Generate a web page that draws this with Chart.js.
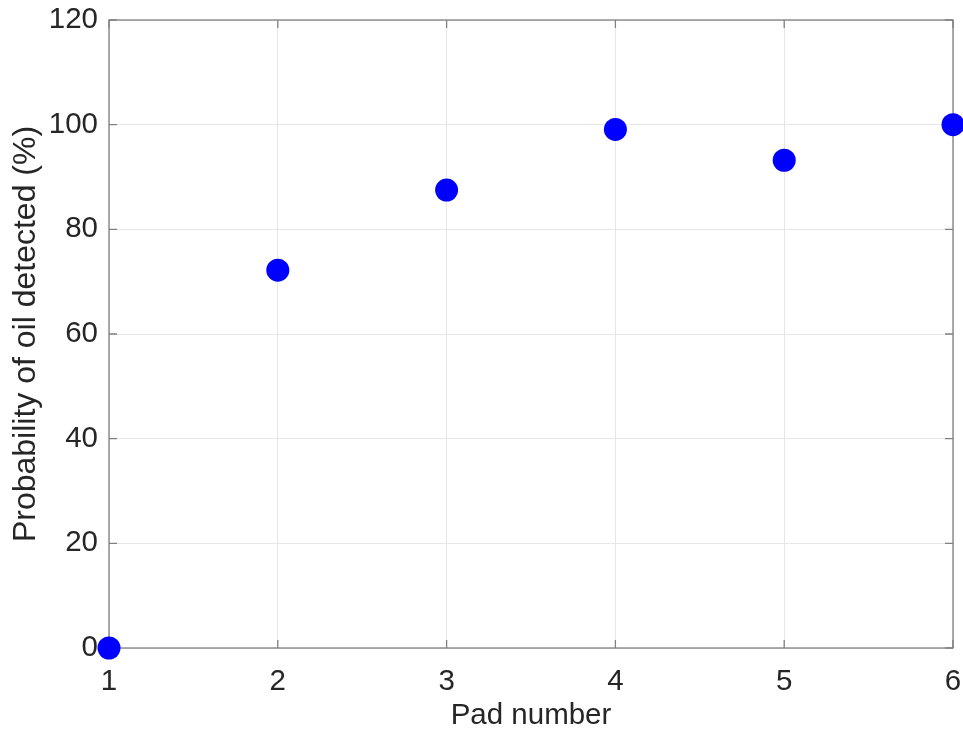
<!DOCTYPE html>
<html>
<head>
<meta charset="utf-8">
<script src="https://cdn.jsdelivr.net/npm/chart.js@4/dist/chart.umd.min.js"></script>
<style>
html,body{margin:0;padding:0;background:#fff;}
#wrap{width:963px;height:736px;}
</style>
</head>
<body>
<div id="wrap"><canvas id="c" width="963" height="736"></canvas></div>
<script>
const padNumbers = [1, 2, 3, 4, 5, 6];
const probabilityOil = [0, 72.2, 87.5, 99.1, 93.2, 100];
const xTicks = [1, 2, 3, 4, 5, 6];
const yTicks = [0, 20, 40, 60, 80, 100, 120];

const points = padNumbers.map((x, i) => ({x: x, y: probabilityOil[i]}));
const FONT = 'Liberation Sans, Arial, sans-serif';

const boxPlugin = {
  id: 'boxPlugin',
  beforeDatasetsDraw(chart) {
    const {ctx, chartArea: a, scales} = chart;
    ctx.save();
    ctx.strokeStyle = '#808080';
    ctx.lineWidth = 1.3;
    const tl = 8;
    ctx.beginPath();
    xTicks.forEach(v => {
      const px = scales.x.getPixelForValue(v);
      ctx.moveTo(px, a.bottom); ctx.lineTo(px, a.bottom - tl);
      ctx.moveTo(px, a.top); ctx.lineTo(px, a.top + tl);
    });
    yTicks.forEach(v => {
      const py = scales.y.getPixelForValue(v);
      ctx.moveTo(a.left, py); ctx.lineTo(a.left + tl, py);
      ctx.moveTo(a.right, py); ctx.lineTo(a.right - tl, py);
    });
    ctx.stroke();
    ctx.strokeRect(a.left, a.top, a.right - a.left, a.bottom - a.top);
    ctx.restore();
  }
};

new Chart(document.getElementById('c'), {
  type: 'scatter',
  data: {
    datasets: [{
      data: points,
      backgroundColor: '#0000ff',
      borderColor: '#0000ff',
      pointRadius: 11.5,
      pointHoverRadius: 11.5,
      borderWidth: 0,
      clip: false
    }]
  },
  options: {
    responsive: false,
    animation: false,
    devicePixelRatio: 1,
    layout: {autoPadding: false, padding: {top: 20, right: 10, left: 0, bottom: 0}},
    plugins: {legend: {display: false}, tooltip: {enabled: false}},
    scales: {
      x: {
        type: 'linear',
        min: 1, max: 6,
        afterBuildTicks(s) { s.ticks = xTicks.map(v => ({value: v})); },
        afterFit(s) { s.height = 88; s.paddingLeft = 0; s.paddingRight = 0; },
        grid: {color: '#e6e6e6', lineWidth: 1, drawTicks: false},
        border: {display: false},
        ticks: {padding: 16, color: '#262626', font: {family: FONT, size: 29.5}},
        title: {display: true, text: 'Pad number', color: '#262626', padding: {top: 0, bottom: 2},
          font: {family: FONT, size: 29.5}}
      },
      y: {
        type: 'linear',
        min: 0, max: 120,
        afterBuildTicks(s) { s.ticks = yTicks.map(v => ({value: v})); },
        afterFit(s) { s.width = 109; s.paddingTop = 0; s.paddingBottom = 0; },
        grid: {color: '#e6e6e6', lineWidth: 1, drawTicks: false},
        border: {display: false},
        ticks: {padding: 11, color: '#262626', font: {family: FONT, size: 29.5}},
        title: {display: true, text: 'Probability of oil detected (%)', color: '#262626', padding: {top: 7, bottom: 0},
          font: {family: FONT, size: 32}}
      }
    }
  },
  plugins: [boxPlugin]
});
</script>
</body>
</html>
